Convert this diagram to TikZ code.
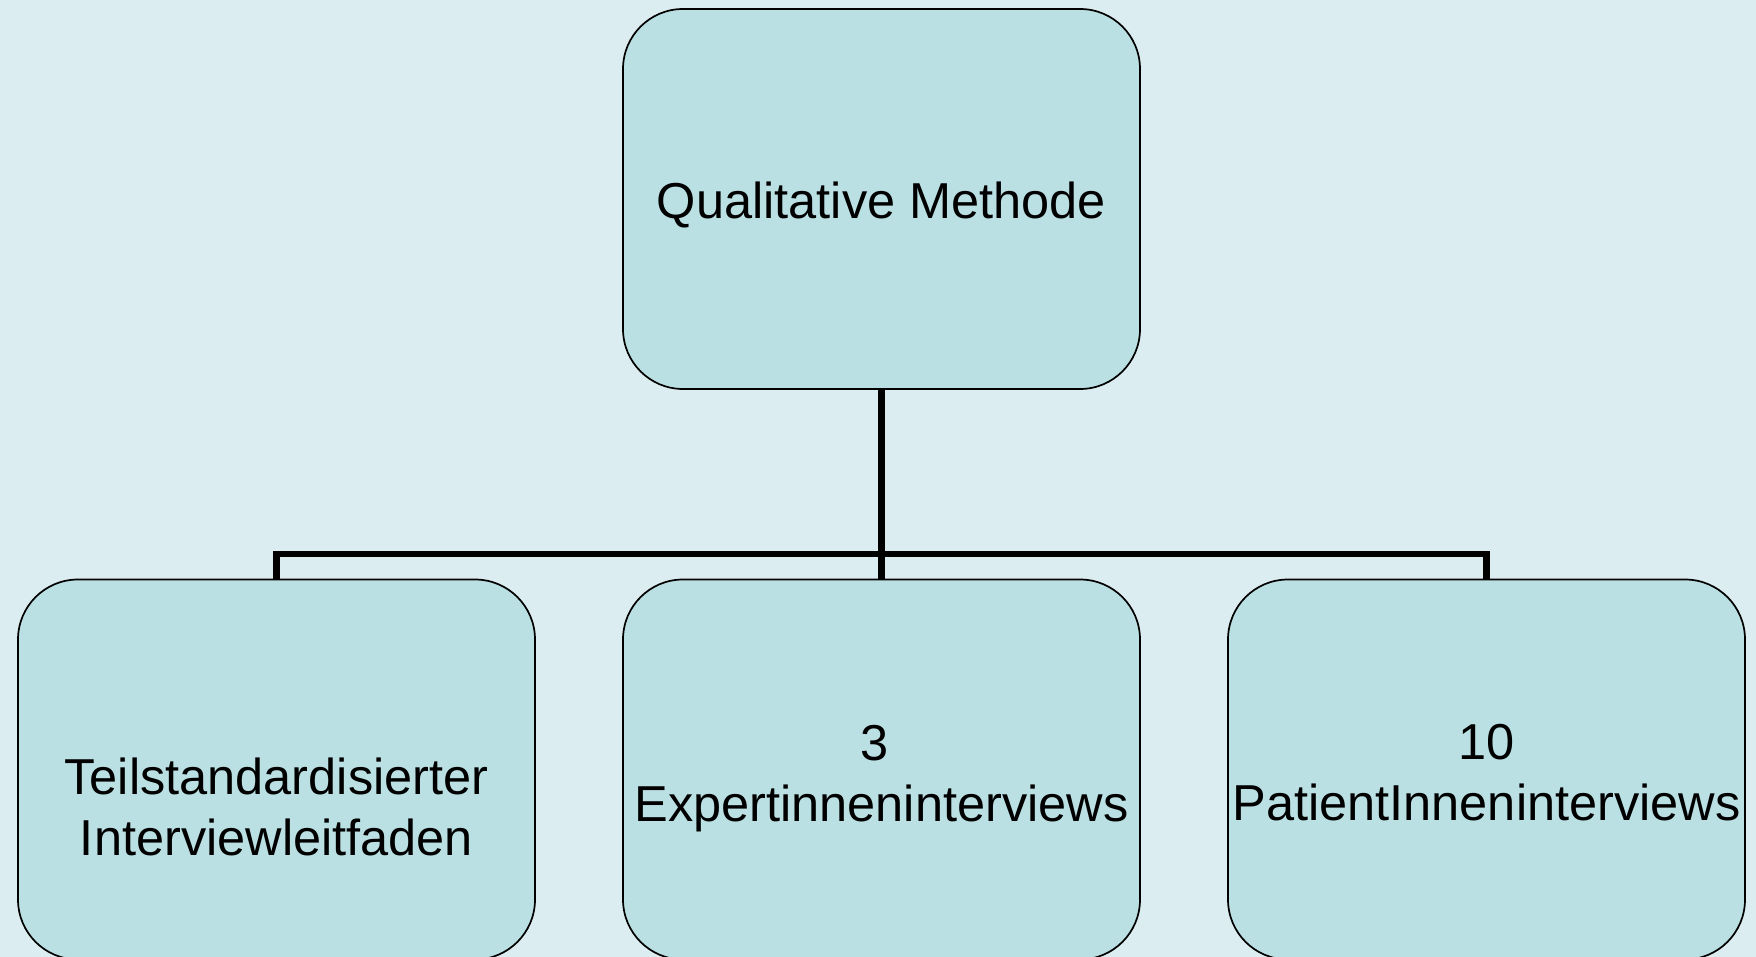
\documentclass[tikz,border=0pt]{standalone}
\usepackage{fontspec}
\setmainfont{Liberation Sans}
\definecolor{bgcol}{RGB}{219,237,240}
\definecolor{boxcol}{RGB}{186,224,227}
\begin{document}
\begin{tikzpicture}[x=1pt,y=-1pt,
  boxnode/.style={draw=black, line width=1.7pt, fill=boxcol, rounded corners=60pt,
    minimum width=517pt, minimum height=380pt, inner sep=0pt, outer sep=0pt},
  labeltext/.style={align=center, font=\fontsize{50.5pt}{61pt}\selectfont, inner sep=0pt},
  conn/.style={line width=6.5pt, line join=miter}]
\fill[bgcol] (0,0) rectangle (1756,957);
\useasboundingbox (0,0) rectangle (1756,957);
\coordinate (bus) at (881.5,554);
\node[boxnode] (top) at (881.5,199) {};
\node[boxnode] (left) at (276.5,769.5) {};
\node[boxnode] (mid) at (881.5,769.5) {};
\node[boxnode] (right) at (1486.5,769.5) {};
\draw[conn] (top.south) -- (mid.north);
\draw[conn] (left.north) -- (left.north |- bus) -- (right.north |- bus) -- (right.north);
\node[labeltext] (toptext) at (881.5,205) {Qualitative Methode};
\node[labeltext] (lefttext) at (276.5,806.5) {Teilstandardisierter\\Interviewleitfaden};
\node[labeltext] (midtext) at (881.5,778.4) {3\kern0.278em\\Expertinneninterviews};
\node[labeltext] (righttext) at (1486.5,773) {10\\PatientInneninterviews};
\end{tikzpicture}
\end{document}
